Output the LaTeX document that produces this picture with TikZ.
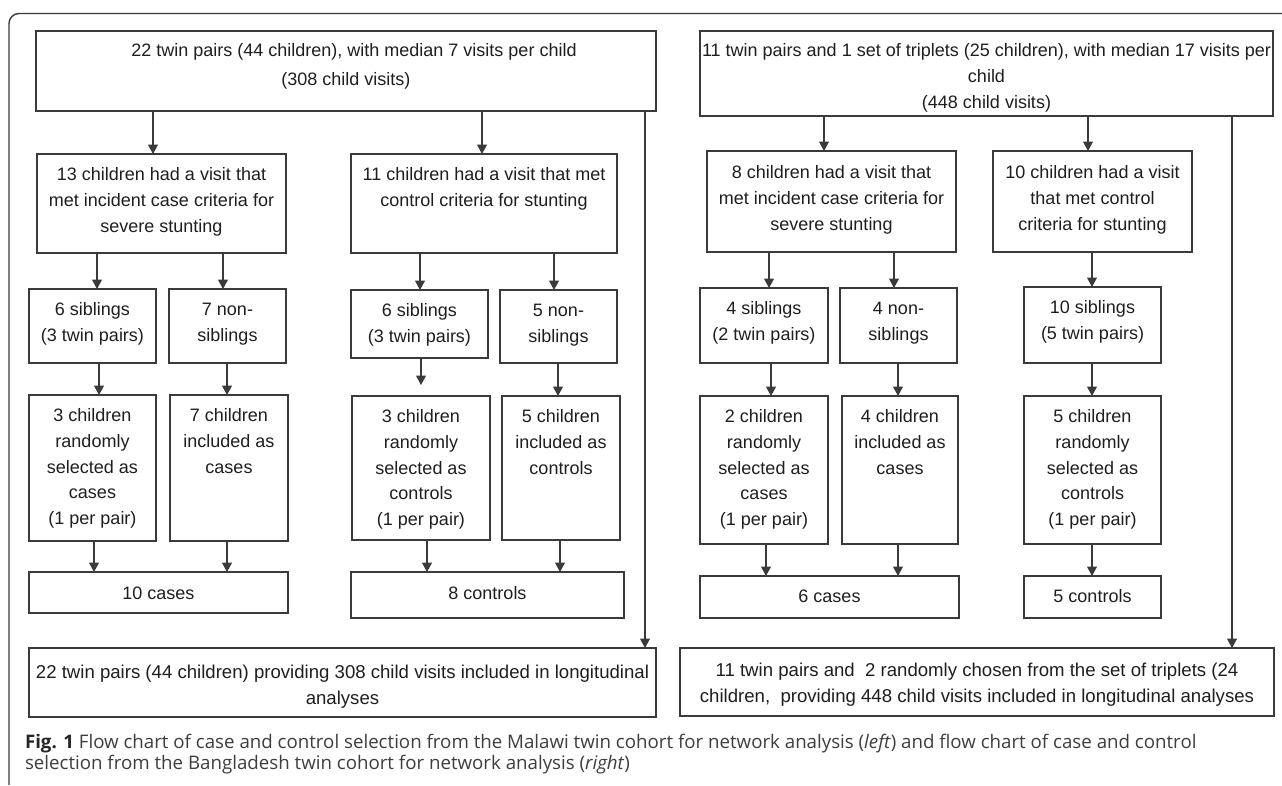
\documentclass[tikz,border=0pt]{standalone}
\usepackage{fontspec}
\setmainfont{Liberation Sans}
\newfontfamily\capfont{Open Sans}
\usetikzlibrary{arrows.meta,calc}
\definecolor{linec}{HTML}{3A3A3A}
\definecolor{txtc}{HTML}{1E1E1E}
\definecolor{capc}{HTML}{3D3D3D}
\tikzset{
  bx/.style={draw=linec, line width=1.3pt, inner sep=0pt, outer sep=0pt, text=txtc,
             font=\fontsize{18pt}{25.8pt}\selectfont},
  arr/.style={draw=linec, line width=1.2pt, -{Triangle[length=9.5pt,width=10pt]}},
  framec/.style={draw=linec, line width=1.4pt, rounded corners=10pt},
  capnode/.style={inner sep=0pt, outer sep=0pt, text=capc, font=\capfont\fontsize{18.7pt}{20pt}\selectfont}
}
% name, x, y, w, h, first-baseline offset, text
\newcommand\flowbox[7]{%
  \node[bx, anchor=north west, minimum width=#4pt, minimum height=#5pt] (#1) at (#2,#3)
    {\parbox[c][#5pt][t]{#4pt}{\centering\leftskip=-20pt plus 1fil\rightskip=-20pt plus 1fil\parfillskip=0pt\rule{0pt}{#6pt}#7\par}};}
\begin{document}
\begin{tikzpicture}[x=1pt,y=-1pt]
\useasboundingbox (0,0) rectangle (1282,785);
\draw[framec] (9,785) -- (9,13.5) -- (1282,13.5);

% ---------- left chart ----------
\flowbox{T1}{36}{31}{620}{80}{25.5}{\hspace*{16pt}22 twin pairs (44 children), with median 7 visits per child\\[3pt](308 child visits)}
\flowbox{A1}{37}{154}{249}{99}{26.5}{13 children had a visit that\\met incident case criteria for\\severe stunting}
\flowbox{A2}{351}{154}{266}{99}{26.5}{11 children had a visit that met\\control criteria for stunting}
\flowbox{B1}{29}{289}{127}{74}{26.5}{6 siblings\\(3 twin pairs)}
\flowbox{B2}{169}{289}{117}{74}{26.5}{7 non-\\siblings}
\flowbox{B3}{351}{290}{137}{68}{26.5}{6 siblings\\(3 twin pairs)}
\flowbox{B4}{500}{290}{117}{73}{26.5}{5 non-\\siblings}
\flowbox{C1}{29}{395}{127}{146}{26.5}{3 children\\randomly\\selected as\\cases\\(1 per pair)}
\flowbox{C2}{170}{395}{118}{146}{26.5}{7 children\\included as\\cases}
\flowbox{C3}{352}{396}{138}{144}{26.5}{3 children\\randomly\\selected as\\controls\\(1 per pair)}
\flowbox{C4}{502}{396}{118}{144}{26.5}{5 children\\included as\\controls}
\flowbox{D1}{29}{572}{259}{41}{27.5}{10 cases}
\flowbox{D2}{351}{572}{273}{46}{27.5}{8 controls}
\flowbox{E1}{29}{648}{627}{69}{30.5}{\fontsize{18.6pt}{25.8pt}\selectfont 22 twin pairs (44 children) providing 308 child visits included in longitudinal\\analyses}

\draw[arr] (153,0 |- T1.south) -- (153,0 |- A1.north);
\draw[arr] (482,0 |- T1.south) -- (482,0 |- A2.north);
\draw[arr] (97,0 |- A1.south) -- (97,0 |- B1.north);
\draw[arr] (223,0 |- A1.south) -- (223,0 |- B2.north);
\draw[arr] (420,0 |- A2.south) -- (420,0 |- B3.north);
\draw[arr] (554,0 |- A2.south) -- (554,0 |- B4.north);
\draw[arr] (99,0 |- B1.south) -- (99,0 |- C1.north);
\draw[arr] (227,0 |- B2.south) -- (227,0 |- C2.north);
\draw[arr] (421,0 |- B3.south) -- ($(421,0 |- C3.north)+(0,-11)$);
\draw[arr] (558,0 |- B4.south) -- (558,0 |- C4.north);
\draw[arr] (94,0 |- C1.south) -- (94,0 |- D1.north);
\draw[arr] (227,0 |- C2.south) -- (227,0 |- D1.north);
\draw[arr] (427,0 |- C3.south) -- (427,0 |- D2.north);
\draw[arr] (560,0 |- C4.south) -- (560,0 |- D2.north);
\draw[arr] (645,0 |- T1.south) -- (645,0 |- E1.north);

% ---------- right chart ----------
\flowbox{T2}{700}{31}{573}{85}{25.5}{11 twin pairs and 1 set of triplets (25 children), with median 17 visits per\\child\\(448 child visits)}
\flowbox{A3}{707}{151}{249}{101}{27.5}{8 children had a visit that\\met incident case criteria for\\severe stunting}
\flowbox{A4}{993}{151}{199}{101}{27.5}{10 children had a visit\\that met control\\criteria for stunting}
\flowbox{B5}{700}{288}{128}{75}{26.5}{4 siblings\\(2 twin pairs)}
\flowbox{B6}{840}{288}{117}{75}{26.5}{4 non-\\siblings}
\flowbox{B7}{1024}{287}{137}{76}{26.5}{10 siblings\\(5 twin pairs)}
\flowbox{C5}{700}{396}{128}{148}{26.5}{2 children\\randomly\\selected as\\cases\\(1 per pair)}
\flowbox{C6}{842}{396}{116}{148}{26.5}{4 children\\included as\\cases}
\flowbox{C7}{1024}{396}{137}{148}{26.5}{5 children\\randomly\\selected as\\controls\\(1 per pair)}
\flowbox{D3}{700}{576}{259}{42}{26.5}{6 cases}
\flowbox{D4}{1024}{576}{137}{42}{26.5}{5 controls}
\flowbox{E2}{680}{648}{594}{68}{28.5}{\fontsize{18.6pt}{25.8pt}\selectfont 11 twin pairs and~~2 randomly chosen from the set of triplets (24\\children,~~providing 448 child visits included in longitudinal analyses}

\draw[arr] (824,0 |- T2.south) -- (824,0 |- A3.north);
\draw[arr] (1088,0 |- T2.south) -- (1088,0 |- A4.north);
\draw[arr] (769,0 |- A3.south) -- (769,0 |- B5.north);
\draw[arr] (894,0 |- A3.south) -- (894,0 |- B6.north);
\draw[arr] (1092,0 |- A4.south) -- (1092,0 |- B7.north);
\draw[arr] (771,0 |- B5.south) -- (771,0 |- C5.north);
\draw[arr] (898,0 |- B6.south) -- (898,0 |- C6.north);
\draw[arr] (1092,0 |- B7.south) -- (1092,0 |- C7.north);
\draw[arr] (766,0 |- C5.south) -- (766,0 |- D3.north);
\draw[arr] (898,0 |- C6.south) -- (898,0 |- D3.north);
\draw[arr] (1092,0 |- C7.south) -- (1092,0 |- D4.north);
\draw[arr] (1232,0 |- T2.south) -- (1232,0 |- E2.north);

% ---------- caption ----------
\node[capnode, anchor=base west] (cap1) at (25,748) {\textcolor{black!85}{\textbf{Fig. 1}} Flow chart of case and control selection from the Malawi twin cohort for network analysis (\textit{left}) and flow chart of case and control};
\node[capnode, anchor=base west] (cap2) at (25,769) {selection from the Bangladesh twin cohort for network analysis (\textit{right})};
\end{tikzpicture}
\end{document}
